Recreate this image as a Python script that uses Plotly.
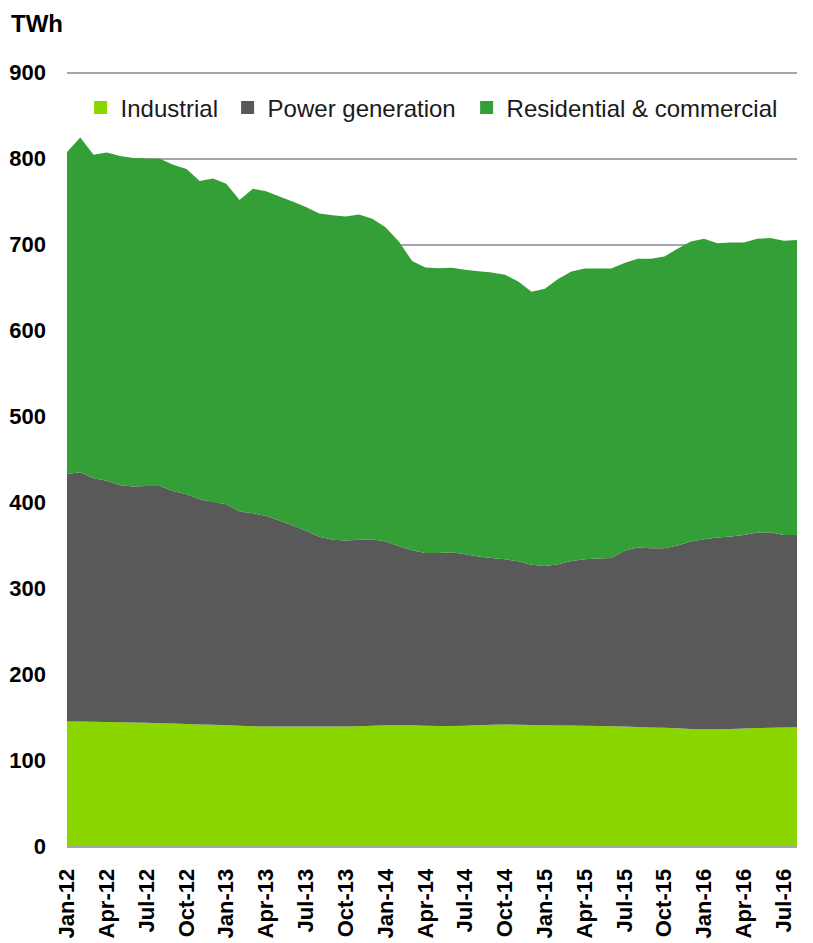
import plotly.graph_objects as go
import pandas as pd

months = pd.date_range("2012-01-01", "2016-08-01", freq="MS").strftime("%b-%y").tolist()

industrial = [145, 145, 144.5, 144.2, 144, 143.8, 143.5, 143, 142.5, 142, 141.5, 141,
              140.5, 140, 139.5, 139.2, 139, 139, 139, 139, 139, 139.2, 139.5, 140,
              140.5, 140.8, 140.5, 140, 139.7, 139.7, 140, 140.5, 141.2, 141.5, 141.2, 140.8,
              140.5, 140.3, 140.2, 140, 139.8, 139.5, 139, 138.5, 138, 137.5, 137, 136.2,
              136, 136, 136.3, 136.7, 137.2, 137.7, 138, 138.2]

power = [288, 290, 283.5, 280.8, 276, 274.5, 275.5, 276, 270.8, 267.4, 262, 259.5,
         257.3, 249.3, 247.8, 245, 239.8, 233.9, 227.8, 221, 217.3, 216.3, 216.8, 217,
         213.8, 208.5, 203.7, 201.1, 201.4, 202.3, 199.6, 196.3, 194.1, 192.3, 190.2, 186.4,
         185.5, 187.7, 191.6, 193.8, 194.7, 195.8, 204.5, 208.8, 208.5, 209, 212.6, 218.1,
         221, 223, 223.8, 225.3, 227.6, 227.5, 224, 223.8]

residential = [374.6, 389.7, 376.5, 382, 383, 382.3, 381.3, 381, 379.7, 378.6, 370.5, 376.5,
               372.9, 362.7, 377.7, 377.8, 377.2, 377.1, 376.8, 376.2, 377.7, 377.2, 378.7, 373,
               365.7, 354.2, 336.8, 332.2, 331.4, 331, 331, 332.2, 332.2, 331.2, 325.6, 317.8,
               322.5, 332, 336.9, 338.2, 337.5, 336.7, 334.9, 336.1, 336.9, 339.5, 345.4, 349.3,
               349.7, 342.6, 342.3, 340.4, 341.9, 342.3, 342.4, 343.2]

series_names = ["Industrial", "Power generation", "Residential & commercial"]
series_values = [industrial, power, residential]
colors = ["#8cd600", "#595959", "#349e37"]

tick_labels = months[::3]
y_ticks = list(range(0, 901, 100))

fig = go.Figure()
for name, vals, col in zip(series_names, series_values, colors):
    fig.add_trace(go.Scatter(
        x=months, y=vals, name=name, stackgroup="one", mode="none",
        fillcolor=col, line=dict(width=0), showlegend=False, hoverinfo="x+y+name"))

legend_ids = ["legend", "legend2", "legend3"]
legend_x = [0.0186, 0.220, 0.5474]
for name, col, lid in zip(series_names, colors, legend_ids):
    fig.add_trace(go.Scatter(
        x=[None], y=[None], name=name, mode="markers", legend=lid,
        marker=dict(symbol="square", size=13, color=col), showlegend=True))

legend_style = dict(orientation="h", xanchor="left", y=0.9523, yanchor="middle",
                    font=dict(size=24, color="#1a1a1a"), bgcolor="rgba(0,0,0,0)",
                    itemwidth=30)

fig.update_layout(
    width=805, height=935,
    margin=dict(l=59, r=16, t=63, b=97, autoexpand=False),
    paper_bgcolor="white", plot_bgcolor="white",
    font=dict(family="Liberation Sans, Arial", size=22, color="#000000"),
    showlegend=True,
    legend=dict(x=legend_x[0], **legend_style),
    legend2=dict(x=legend_x[1], **legend_style),
    legend3=dict(x=legend_x[2], **legend_style),
    xaxis=dict(type="category", range=[0, len(months) - 1], automargin=False,
               tickmode="array", tickvals=tick_labels, ticktext=tick_labels,
               tickangle=-90, tickfont=dict(size=22, family="Liberation Sans, Arial", weight="bold"),
               showgrid=False, showline=True, linecolor="#a6a6a6", linewidth=2,
               ticks="", ticklabelstandoff=12, zeroline=False),
    yaxis=dict(range=[0, 902], tickmode="array", tickvals=y_ticks, automargin=False,
               tickfont=dict(size=22, family="Liberation Sans, Arial", weight="bold"),
               showgrid=True, gridcolor="#a6a6a6", gridwidth=2,
               zeroline=False, showline=False, ticks="", ticklabelstandoff=20),
    annotations=[dict(text="<b>TWh</b>", xref="paper", yref="paper",
                      x=-0.0795, y=1.0813, xanchor="left", yanchor="top",
                      showarrow=False, font=dict(size=24, color="#000000"))],
)

fig.write_html("out.html")
